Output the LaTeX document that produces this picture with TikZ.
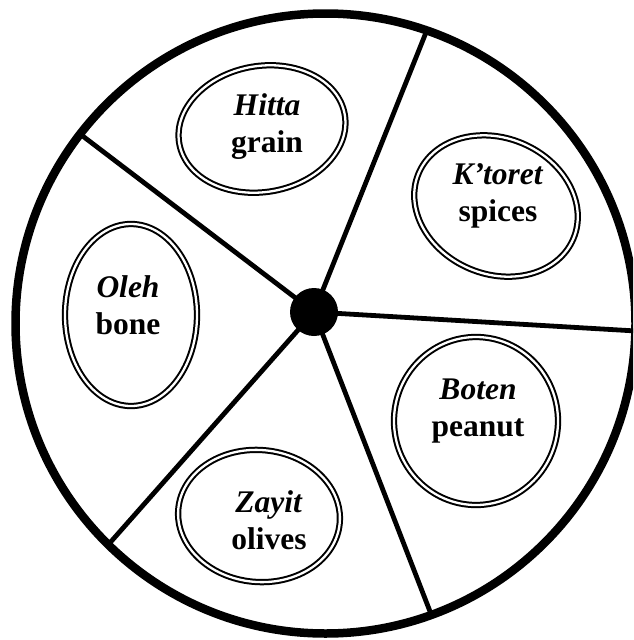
\documentclass[tikz,border=0pt]{standalone}
\usepackage{fontspec}
\setmainfont{Liberation Serif}
\begin{document}
\begin{tikzpicture}[x=1pt,y=-1pt,
    spoke/.style={line width=4.8pt},
    ring/.style={double, line width=2pt, double distance=2.3pt},
    word/.style={font=\fontsize{31.5}{37}\selectfont\bfseries, align=center, inner sep=0pt}]
    % Wheel of five portions

    \useasboundingbox (0,0) rectangle (633,640);
    \clip (0,0) rectangle (633,640);

    % Rim
    \coordinate (rim) at (325.5,323.5);
    \draw[line width=8.5pt] (rim) circle[radius=310];

    % Spoke ends on the rim
    \coordinate (e1) at (427,30);
    \coordinate (e2) at (636,331);
    \coordinate (e3) at (431,614);
    \coordinate (e4) at (108,545);
    \coordinate (e5) at (80,134);

    % Hub
    \node[circle, fill=black, minimum size=48pt, inner sep=0pt] (hub) at (314,312) {};
    \foreach \e in {e1,e2,e3,e4,e5}
        \draw[spoke] (hub.center) -- (\e);

    % Portions
    \draw[ring] (262,129) ellipse[x radius=84, y radius=63, rotate=10];
    \node[word] (hitta) at (267,127) {\textit{Hitta}\\grain};

    \draw[ring] (496,206) ellipse[x radius=84, y radius=68, rotate=-23];
    \node[word] (ktoret) at (498,196) {\textit{K’toret}\\spices};

    \draw[ring] (131,315) ellipse[x radius=66, y radius=91];
    \node[word] (oleh) at (128,305) {\textit{Oleh}\\bone};

    \draw[ring] (476,421) ellipse[x radius=82, y radius=84];
    \node[word] (boten) at (478,411) {\textit{Boten}\\peanut};

    \draw[ring] (259,516) ellipse[x radius=81, y radius=66, rotate=-5];
    \node[word] (zayit) at (269,520) {\textit{Zayit}\\olives};
\end{tikzpicture}
\end{document}
